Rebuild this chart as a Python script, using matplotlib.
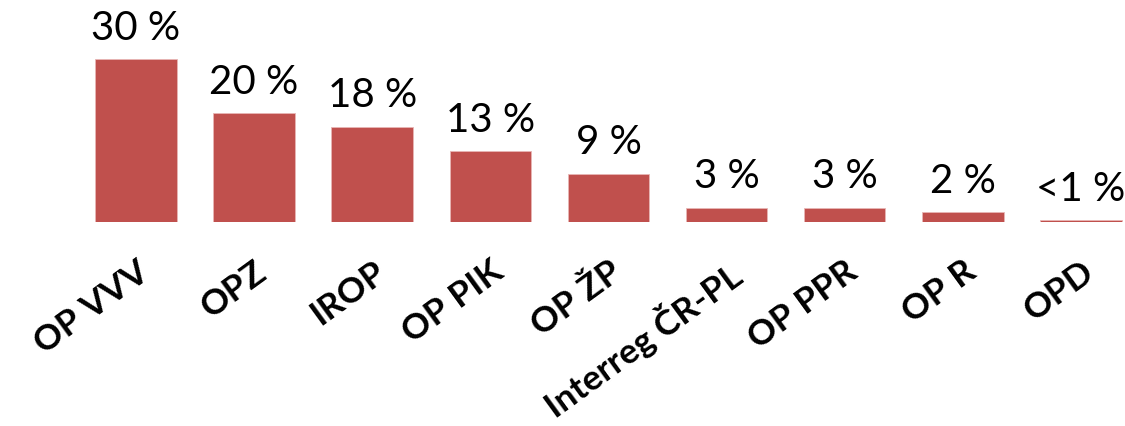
import matplotlib
matplotlib.use("Agg")
import matplotlib.pyplot as plt

categories = ["OP VVV", "OPZ", "IROP", "OP PIK", "OP ŽP", "Interreg ČR-PL", "OP PPR", "OP R", "OPD"]
values = [30.0, 20.0, 17.5, 13.0, 8.9, 2.6, 2.6, 1.8, 0.3]
value_labels = ["30 %", "20 %", "18 %", "13 %", "9 %", "3 %", "3 %", "2 %", "<1 %"]

bar_color = "#C0504D"

fig = plt.figure(figsize=(11.25, 4.26), dpi=100)
ax = fig.add_axes([0, 1 - 222 / 426, 1, 222 / 426])

x = list(range(len(categories)))
ax.bar(x, values, width=0.69, color=bar_color, edgecolor="#E8B6B5", linewidth=0.6)

ax.set_xlim(-1.151, 8.373)
ax.set_ylim(0, 222 / 5.43)

for xi, v, lab in zip(x, values, value_labels):
    ax.annotate(lab, (xi, v), xytext=(0, 9), textcoords="offset points",
                ha="center", va="bottom", fontsize=29, family="Lato", color="black")

ax.set_xticks(x)
ax.set_xticklabels(categories, rotation=36, ha="right", rotation_mode="anchor",
                   fontsize=25.5, fontweight="bold", family="Lato")
ax.tick_params(axis="x", length=0, pad=24)
ax.set_yticks([])
for s in ax.spines.values():
    s.set_visible(False)

fig.savefig("out.png", dpi=100)
